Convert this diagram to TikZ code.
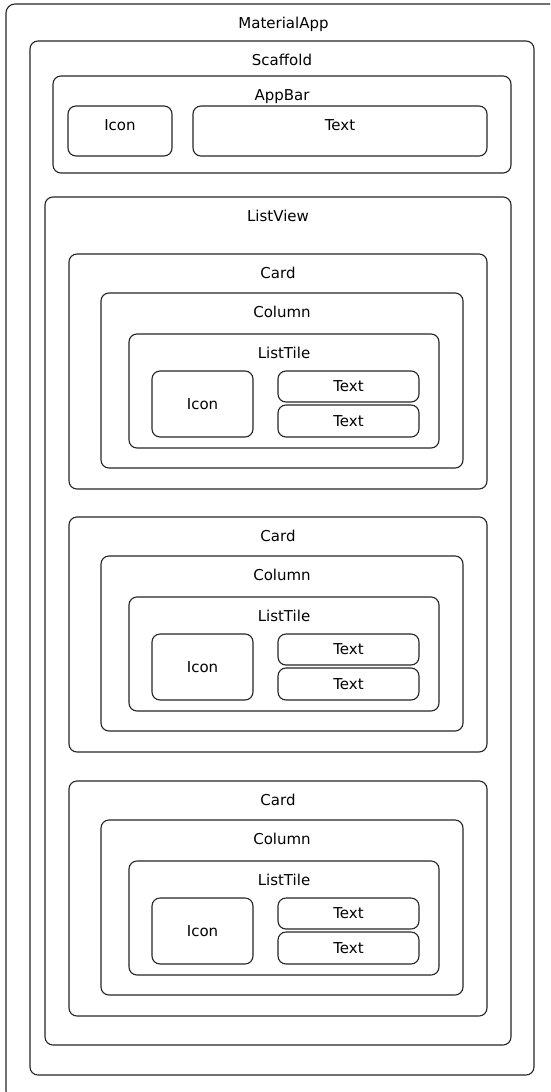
\documentclass[tikz,border=0pt]{standalone}
\usepackage{fontspec}
\setmainfont{DejaVu Sans}
\usepackage{tikz}
\usepackage{xcolor}

\tikzset{
  box/.style={draw=black!85,line width=1.1pt,rounded corners=8pt},
  lbl/.style={font=\fontsize{15}{18}\selectfont,anchor=base,inner sep=0pt},
  mid/.style={font=\fontsize{15}{18}\selectfont,anchor=center,inner sep=0pt}
}

\begin{document}
\begin{tikzpicture}[x=1pt,y=-1pt]
  \clip (0,0) rectangle (550,1092);
  \fill[white] (0,0) rectangle (550,1092);
  % app and scaffold
  \draw[box,rounded corners=9pt] (6,4) rectangle (561,1100);
  \node[lbl] (app) at (283.5,28) {MaterialApp};
  \draw[box] (30,41) rectangle (534,1075);
  \node[lbl] (scaffold) at (282,65) {Scaffold};
  % app bar
  \draw[box] (53,76) rectangle (511,173);
  \node[lbl] (appbar) at (282,100) {AppBar};
  \draw[box] (68,106) rectangle (172,156);
  \node[lbl] (baricon) at (120,130) {Icon};
  \draw[box] (193,106) rectangle (487,156);
  \node[lbl] (bartext) at (340,130) {Text};
  % list view with three cards
  \draw[box] (45,197) rectangle (511,1045);
  \node[lbl] (listview) at (278,221) {ListView};
  \foreach \i/\t in {1/254,2/517,3/781}{
    \draw[box] (69,\t) rectangle (487,\t+235);
    \node[lbl] (card\i) at (278,\t+24) {Card};
    \draw[box] (101,\t+39) rectangle (463,\t+214);
    \node[lbl] (column\i) at (282,\t+63) {Column};
    \draw[box] (129,\t+80) rectangle (439,\t+194);
    \node[lbl] (tile\i) at (284,\t+104) {ListTile};
    \draw[box] (152,\t+117) rectangle (253,\t+183);
    \node[mid] (icon\i) at (202.5,\t+150) {Icon};
    \draw[box] (278,\t+117) rectangle (419,\t+148);
    \node[mid] (title\i) at (348.5,\t+132.5) {Text};
    \draw[box] (278,\t+151) rectangle (419,\t+183);
    \node[mid] (subtitle\i) at (348.5,\t+167) {Text};
  }
\end{tikzpicture}
\end{document}
